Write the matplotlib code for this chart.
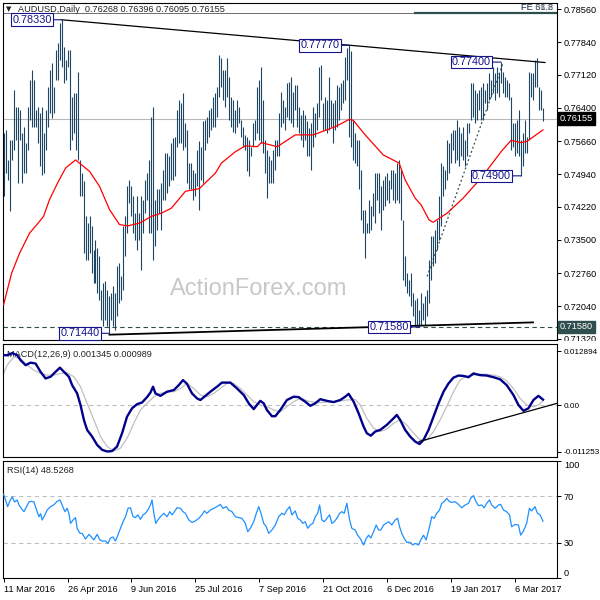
import numpy as np
import matplotlib
matplotlib.use('Agg')
import matplotlib.pyplot as plt
from matplotlib.patches import Rectangle

plt.rcParams['font.family'] = ['Liberation Sans', 'DejaVu Sans']

# ---------------- data ----------------
symbol = 'AUDUSD,Daily'
last_ohlc = [0.76268, 0.76396, 0.76095, 0.76155]

# daily bar highs / lows, bar 0 = 11 Mar 2016
highs = [
    0.7584, 0.7591, 0.7525, 0.7569, 0.7569, 0.7679, 0.7642, 0.7642, 0.7635, 0.7584,
    0.7598, 0.7562, 0.7642, 0.7701, 0.7723, 0.7701, 0.7635, 0.7642, 0.7628, 0.7642,
    0.7584, 0.7635, 0.7686, 0.7723, 0.7737, 0.7686, 0.7767, 0.7781, 0.7825, 0.7833,
    0.7774, 0.7745, 0.7767, 0.7767, 0.7664, 0.7672, 0.7672, 0.7719, 0.7525, 0.7496,
    0.7478, 0.7401, 0.7386, 0.7401, 0.7379, 0.7328, 0.7350, 0.7331, 0.7313, 0.7240,
    0.7255, 0.7258, 0.7240, 0.7225, 0.7233, 0.7247, 0.7233, 0.7291, 0.7299, 0.7269,
    0.7379, 0.7401, 0.7467, 0.7481, 0.7467, 0.7445, 0.7408, 0.7445, 0.7408, 0.7445,
    0.7438, 0.7481, 0.7496, 0.7525, 0.7620, 0.7642, 0.7438, 0.7460, 0.7460, 0.7474,
    0.7503, 0.7540, 0.7540, 0.7533, 0.7562, 0.7573, 0.7576, 0.7635, 0.7657, 0.7650,
    0.7672, 0.7606, 0.7591, 0.7518, 0.7518, 0.7503, 0.7496, 0.7547, 0.7566, 0.7554,
    0.7610, 0.7613, 0.7620, 0.7635, 0.7639, 0.7664, 0.7672, 0.7686, 0.7756, 0.7748,
    0.7723, 0.7723, 0.7748, 0.7708, 0.7664, 0.7657, 0.7635, 0.7657, 0.7642, 0.7613,
    0.7598, 0.7580, 0.7576, 0.7569, 0.7554, 0.7606, 0.7613, 0.7686, 0.7701, 0.7730,
    0.7657, 0.7569, 0.7547, 0.7533, 0.7525, 0.7547, 0.7569, 0.7569, 0.7628, 0.7675,
    0.7657, 0.7642, 0.7694, 0.7697, 0.7708, 0.7675, 0.7690, 0.7690, 0.7642, 0.7624,
    0.7635, 0.7624, 0.7610, 0.7595, 0.7606, 0.7642, 0.7628, 0.7650, 0.7730, 0.7734,
    0.7650, 0.7664, 0.7657, 0.7708, 0.7657, 0.7650, 0.7657, 0.7690, 0.7686, 0.7694,
    0.7701, 0.7752, 0.7770, 0.7777, 0.7764, 0.7613, 0.7584, 0.7569, 0.7569, 0.7503,
    0.7416, 0.7416, 0.7386, 0.7438, 0.7423, 0.7452, 0.7496, 0.7496, 0.7496, 0.7467,
    0.7481, 0.7489, 0.7496, 0.7481, 0.7503, 0.7503, 0.7496, 0.7518, 0.7525, 0.7503,
    0.7394, 0.7313, 0.7277, 0.7262, 0.7277, 0.7233, 0.7218, 0.7222, 0.7196, 0.7233,
    0.7211, 0.7225, 0.7240, 0.7306, 0.7357, 0.7357, 0.7372, 0.7394, 0.7445, 0.7518,
    0.7511, 0.7503, 0.7569, 0.7562, 0.7584, 0.7591, 0.7591, 0.7613, 0.7598, 0.7584,
    0.7598, 0.7569, 0.7606, 0.7606, 0.7694, 0.7694, 0.7679, 0.7672, 0.7679, 0.7686,
    0.7694, 0.7679, 0.7694, 0.7716, 0.7701, 0.7730, 0.7716, 0.7730, 0.7716, 0.7740,
    0.7719, 0.7708, 0.7701, 0.7694, 0.7664, 0.7606, 0.7606, 0.7613, 0.7635, 0.7569,
    0.7584, 0.7613, 0.7576, 0.7719, 0.7716, 0.7716, 0.7745, 0.7748, 0.7686, 0.7679,
    0.76396]
lows = [
    0.7445, 0.7496, 0.7481, 0.7412, 0.7525, 0.7547, 0.7569, 0.7474, 0.7569, 0.7474,
    0.7496, 0.7496, 0.7547, 0.7613, 0.7598, 0.7598, 0.7598, 0.7562, 0.7511, 0.7492,
    0.7496, 0.7547, 0.7598, 0.7628, 0.7617, 0.7628, 0.7701, 0.7701, 0.7745, 0.7730,
    0.7694, 0.7701, 0.7730, 0.7547, 0.7569, 0.7584, 0.7547, 0.7525, 0.7445, 0.7445,
    0.7320, 0.7306, 0.7306, 0.7320, 0.7277, 0.7255, 0.7255, 0.7233, 0.7218, 0.7174,
    0.7160, 0.7174, 0.7160, 0.7144, 0.7174, 0.7160, 0.7152, 0.7182, 0.7211, 0.7218,
    0.7240, 0.7313, 0.7364, 0.7430, 0.7401, 0.7364, 0.7350, 0.7328, 0.7350, 0.7284,
    0.7364, 0.7408, 0.7438, 0.7364, 0.7364, 0.7306, 0.7335, 0.7372, 0.7408, 0.7372,
    0.7438, 0.7438, 0.7452, 0.7467, 0.7481, 0.7481, 0.7489, 0.7554, 0.7562, 0.7562,
    0.7547, 0.7554, 0.7474, 0.7460, 0.7460, 0.7438, 0.7445, 0.7467, 0.7416, 0.7481,
    0.7474, 0.7547, 0.7562, 0.7576, 0.7591, 0.7598, 0.7598, 0.7620, 0.7664, 0.7686,
    0.7657, 0.7642, 0.7664, 0.7613, 0.7598, 0.7587, 0.7584, 0.7598, 0.7606, 0.7576,
    0.7554, 0.7547, 0.7500, 0.7489, 0.7533, 0.7554, 0.7569, 0.7584, 0.7569, 0.7562,
    0.7540, 0.7496, 0.7441, 0.7474, 0.7474, 0.7474, 0.7503, 0.7533, 0.7533, 0.7598,
    0.7606, 0.7591, 0.7620, 0.7613, 0.7606, 0.7598, 0.7635, 0.7598, 0.7584, 0.7569,
    0.7554, 0.7569, 0.7533, 0.7533, 0.7503, 0.7554, 0.7576, 0.7591, 0.7620, 0.7657,
    0.7591, 0.7591, 0.7584, 0.7591, 0.7598, 0.7562, 0.7591, 0.7598, 0.7613, 0.7635,
    0.7650, 0.7657, 0.7701, 0.7576, 0.7554, 0.7525, 0.7518, 0.7511, 0.7460, 0.7394,
    0.7364, 0.7310, 0.7364, 0.7364, 0.7372, 0.7401, 0.7386, 0.7438, 0.7408, 0.7372,
    0.7416, 0.7423, 0.7438, 0.7430, 0.7460, 0.7438, 0.7430, 0.7438, 0.7430, 0.7394,
    0.7262, 0.7247, 0.7233, 0.7225, 0.7204, 0.7182, 0.7160, 0.7163, 0.7158, 0.7163,
    0.7174, 0.7163, 0.7182, 0.7211, 0.7262, 0.7291, 0.7299, 0.7328, 0.7350, 0.7379,
    0.7445, 0.7460, 0.7481, 0.7496, 0.7518, 0.7547, 0.7518, 0.7525, 0.7511, 0.7533,
    0.7525, 0.7511, 0.7533, 0.7584, 0.7613, 0.7620, 0.7606, 0.7613, 0.7635, 0.7613,
    0.7613, 0.7650, 0.7635, 0.7657, 0.7664, 0.7672, 0.7657, 0.7672, 0.7664, 0.7694,
    0.7672, 0.7664, 0.7664, 0.7657, 0.7547, 0.7554, 0.7533, 0.7540, 0.7533, 0.7490,
    0.7511, 0.7540, 0.7540, 0.7569, 0.7664, 0.7657, 0.7686, 0.7686, 0.7635, 0.7635,
    0.76095]

# red moving average
ma_idx = [0, 4, 8, 13, 18, 20, 23, 27, 31, 36, 43, 48, 53, 58, 62, 68, 74, 79, 84, 91,
          98, 106, 109, 116, 121, 127, 129, 137, 146, 155, 166, 173, 175, 181, 190, 198,
          201, 206, 209, 213, 215, 222, 230, 239, 249, 254, 259, 262, 270]
ma_val = [0.7207, 0.7276, 0.7320, 0.7364, 0.7390, 0.7401, 0.7438, 0.7474, 0.7507, 0.7525,
          0.7500, 0.7467, 0.7416, 0.7383, 0.7380, 0.7386, 0.7401, 0.7408, 0.7419, 0.7456,
          0.7462, 0.7496, 0.7518, 0.7543, 0.7556, 0.7554, 0.7563, 0.7554, 0.7580, 0.7580,
          0.7598, 0.7614, 0.7612, 0.7580, 0.7536, 0.7518, 0.7481, 0.7441, 0.7426, 0.7393,
          0.7388, 0.7408, 0.7441, 0.7485, 0.7543, 0.7568, 0.7563, 0.7566, 0.7591]

# swing points that carry a price box
pivot_idx = [29, 173, 249, 259, 53, 208]
pivot_px = [0.78330, 0.77770, 0.77400, 0.74900, 0.71440, 0.71580]

# drawn trend lines (bar index, price)
res_idx, res_px = [29, 271], [0.7833, 0.7739]
sup_idx, sup_px = [53, 265], [0.7141, 0.7168]
dot_idx, dot_px = [212, 250], [0.7269, 0.7738]
level_px = 0.7158
fe_px = 0.7847
fe_start = 206

price_ticks = [0.7856, 0.7784, 0.7712, 0.7640, 0.7566, 0.7494, 0.7422, 0.7350,
               0.7276, 0.7204, 0.7132]

# MACD(12,26,9)
macd_last = [0.001345, 0.000989]
macd_idx = [0, 1.8, 4.3, 6.8, 8.5, 11, 13.5, 16, 18.5, 21, 23.5, 26, 28.2, 30.2, 32.7,
            34.3, 36.8, 38.5, 40.2, 41.8, 44.3, 46.8, 49.3, 51.8, 54.3, 56.8, 59.3, 61.8,
            64.3, 66.8, 69.3, 71.8, 73.5, 74.8, 76, 78.5, 81.8, 85.2, 87.7, 89.8, 91.8,
            94.3, 96.8, 98.5, 101, 103.5, 106.8, 109.3, 113.5, 116.8, 120.2, 122.7,
            125.2, 126.8, 128.5, 130.2, 131.8, 134.3, 136, 138.5, 141.8, 145.2, 147.7,
            148.5, 151, 153.5, 156, 158.5, 161.8, 165.2, 168.5, 171, 172.7, 175.2, 177.7,
            180.2, 181.8, 183.8, 186, 188.5, 191.8, 195.2, 196.8, 198.5, 201, 203.5, 206,
            208.2, 210.2, 212.7, 215.2, 217.7, 220.2, 222.7, 225.2, 227.7, 230.2, 232.7,
            235.2, 238.5, 241.8, 245.2, 248.5, 251.8, 255.2, 257.7, 260.2, 262.7, 265.2,
            267.7, 270]
macd_val = [0.0120, 0.0120, 0.0125, 0.0120, 0.0108, 0.0096, 0.0102, 0.0100, 0.0080, 0.0064,
            0.0068, 0.0080, 0.0090, 0.0080, 0.0068, 0.0048, 0.0028, 0.0000, -0.0036, -0.0060,
            -0.0076, -0.0096, -0.0108, -0.0112, -0.0111, -0.0100, -0.0068, -0.0028, -0.0008,
            0.0002, 0.0006, 0.0019, 0.0030, 0.0044, 0.0028, 0.0022, 0.0032, 0.0036, 0.0048,
            0.0060, 0.0051, 0.0028, 0.0016, 0.0012, 0.0022, 0.0032, 0.0044, 0.0054, 0.0054,
            0.0040, 0.0024, 0.0004, -0.0010, 0.0000, 0.0010, 0.0004, -0.0012, -0.0027,
            -0.0027, -0.0012, 0.0012, 0.0020, 0.0019,
            0.0016, 0.0008, -0.0002, 0.0004, 0.0014, 0.0010, 0.0007, 0.0012, 0.0020, 0.0027,
            0.0008, -0.0020, -0.0052, -0.0068, -0.0074, -0.0064, -0.0060, -0.0048, -0.0032,
            -0.0024, -0.0036, -0.0060, -0.0076, -0.0088, -0.0094, -0.0084, -0.0060, -0.0028,
            0.0004, 0.0032, 0.0052, 0.0066, 0.0071, 0.0070, 0.0067, 0.0076, 0.0072, 0.0071,
            0.0067, 0.0062, 0.0048, 0.0024, 0.0000, -0.0014, -0.0008, 0.0012, 0.0022, 0.0013]
sig_idx = [0, 1.8, 5.2, 8.5, 11.8, 15.2, 18.5, 21.8, 25.2, 28.5, 31.8, 35.2, 38.5, 41.8,
           45.2, 48.5, 51.8, 55.2, 58.5, 61.8, 65.2, 68.5, 71.8, 75.2, 78.5, 81.8, 85.2,
           88.5, 91.8, 95.2, 98.5, 101.8, 105.2, 108.5, 111.8, 115.2, 118.5, 121.8, 125.2,
           128.5, 131.8, 135.2, 138.5, 141.8, 145.2, 148.5, 153.5, 158.5, 165.2, 171.8, 176,
           178.5, 181.8, 185.2, 188.5, 191.8, 195.2, 198.5, 201.8, 205.2, 208.5, 211.8,
           215.2, 218.5, 221.8, 225.2, 228.5, 231.8, 235.2, 238.5, 241.8, 245.2, 248.5,
           251.8, 255.2, 258.5, 261.8, 265.2, 267.7, 270]
sig_val = [0.0076, 0.0096, 0.0116, 0.0112, 0.0096, 0.0084, 0.0076, 0.0072, 0.0072, 0.0076,
           0.0078, 0.0068, 0.0044, 0.0004, -0.0036, -0.0076, -0.0100, -0.0111, -0.0104,
           -0.0080, -0.0044, -0.0012, 0.0004, 0.0020, 0.0028, 0.0032, 0.0032, 0.0040, 0.0052,
           0.0040, 0.0024, 0.0020, 0.0028, 0.0040, 0.0052, 0.0052, 0.0040, 0.0024, 0.0008,
           0.0000, -0.0004, -0.0012, -0.0016, -0.0004, 0.0008, 0.0016, 0.0008, 0.0006, 0.0008,
           0.0012, 0.0013, 0.0000, -0.0032, -0.0056, -0.0064, -0.0058, -0.0044, -0.0036,
           -0.0048, -0.0068, -0.0084, -0.0084, -0.0064, -0.0036, -0.0004, 0.0032, 0.0060,
           0.0070, 0.0072, 0.0074, 0.0074, 0.0072, 0.0068, 0.0058, 0.0040, 0.0016, 0.0000,
           -0.0004, 0.0000, 0.0010]
macd_tl_idx, macd_tl_val = [208, 277], [-0.0088, 0.0004]
macd_ticks = [0.012894, 0.0, -0.011253]
macd_ticklabels = ['0.012894', '0.00', '-0.011253']

# RSI(14)
rsi_last = 48.5268
rsi_idx = [0, 1, 2, 3, 4.3, 5.5, 6.8, 7.7, 8.8, 10.2, 11.5, 12.7, 13.8, 15.2, 16.5, 17.7,
           18.5, 19.3, 20.7, 21.8, 23.5, 25.2, 26.8, 28.2, 29.3, 30.7, 31.8, 32.7, 33.5,
           34.8, 36, 36.8, 38.2, 39.3, 41, 42.7, 43.8, 45.2, 46.8, 48.2, 49.3, 51, 52.2,
           53.5, 54.7, 56, 57.2, 58.5, 59.8, 61, 62.3, 63.5, 64.8, 66, 67.2, 68.5, 69.8,
           71, 72.2, 73.5, 74.3, 75.2, 76.2, 77.2, 78.5, 80.2, 81.8, 83.2, 84.3, 85.5,
           86.8, 88.5, 89.8, 91, 92.7, 94.3, 96, 97.7, 99.3, 100.5, 101.8, 103.5, 105.2,
           106.8, 108.5, 109.8, 111.5, 112.7, 114.3, 116, 117.7, 119.3, 121, 122.2, 123.5,
           125.2, 126.5, 127.7, 128.8, 130.2, 131.5, 132.7, 134.3, 136, 137.7, 139.3,
           140.5, 141.8, 143.2, 144.3, 146, 147.2,
           148.5, 149.8, 151, 152.2, 153.5, 154.8, 156, 157.2, 158.2, 159.3, 160.5, 161.8,
           163.2, 164.3, 165.5, 166.8, 168.2, 169.3, 170.5, 171.8, 173.2, 174.3, 176,
           177.2, 178.5, 180.2, 181.5, 182.7, 183.8, 185.2, 186.5, 187.7, 188.8, 190.2,
           191.5, 192.7, 194.3, 196, 197.2, 198.2, 199.3, 200.5, 201.8, 203.5, 204.8, 206,
           207.7, 208.8, 210.2, 211.5, 213.2, 214.3, 215.5, 216.8, 218.2, 219.3, 220.5,
           221.8, 223.2, 224.3, 226, 227.7, 229.3, 231, 232.7, 233.8, 235.2, 236.5, 237.7,
           239.3, 240.5, 241.8, 243.2, 244.3, 246, 247.7, 248.8, 250.2, 251.8, 253.2,
           254.3, 256, 257.7, 258.8, 260.2, 261.8, 263.2, 264.3, 266, 267.2, 268.5, 270]
rsi_val = [71.5, 66.7, 61, 65.2, 69.5, 65, 66.7, 62.4, 59.6, 56.7, 61, 65, 65.5, 65, 58.1,
           52.4, 55, 49.6, 54, 58.1, 61, 62.6, 65.5, 66.7, 62.4, 56.7, 59.6, 55, 46.7, 49.6,
           51.6, 42.5, 38.2, 38.2, 33.3, 37.3, 35.3, 32.5, 37.3, 32.5, 31.6, 31.6, 29.6,
           34.2, 35, 31.6, 36.6, 42.5, 48.1, 52.4, 59.6, 60, 52.4, 51.6, 54, 50.1, 54, 55.3,
           58.1, 62.4, 66.7, 55.3, 46.7, 49.6, 52.4, 55.3, 52.4, 56.7, 54, 56.7, 60, 59.6,
           56.7, 55.3, 49.6, 47.5, 48.8, 51, 54, 57.3, 55.3, 58.1, 59.6, 61, 62.9, 59.6, 61,
           58.1, 56.7, 52.4, 51.6, 51, 46.7, 39.6, 42.5, 48.1, 55.3, 61, 55.3, 46.7, 43.8,
           38.2, 41, 45.3, 52.4, 55.3, 54, 58.1, 61, 54, 57.3, 51,
           49.6, 46.7, 48.1, 42.5, 45.3, 46.7, 52.4, 55.3, 62.4, 49.6, 48.1, 51, 54, 46.7,
           48.1, 51, 55.3, 56.7, 55.3, 63.9, 49.6, 42.5, 41, 36.6, 33.8, 28.2, 33.8, 36.6,
           34.2, 39.6, 45.3, 41, 41, 45.3, 46.7, 48.1, 45.3, 49.6, 51, 43.8, 38.2, 33.8,
           30.5, 30.5, 28.2, 29.6, 28.2, 32.5, 36.6, 32.5, 43.8, 52.4, 51, 55.3, 58.1, 63.8,
           65.2, 68.1, 65.2, 64.7, 65.2, 62.9, 60, 62.4, 63.8, 68.1, 70.4, 65.2, 61.8, 62.4,
           60, 63.8, 66.7, 62.4, 59.6, 62.4, 62.9, 58.1, 56.7, 54, 43.8, 45.8, 45.3, 36.6,
           40, 46.7, 59.6, 57.3, 61, 55.3, 54, 48.5]

date_ticks = [0, 32, 64, 96, 128, 160, 192, 224, 256]
date_labels = ['11 Mar 2016', '26 Apr 2016', '9 Jun 2016', '25 Jul 2016', '7 Sep 2016',
               '21 Oct 2016', '6 Dec 2016', '19 Jan 2017', '6 Mar 2017']

# ---------------- figure ----------------
W, H = 600, 600
fig = plt.figure(figsize=(6, 6), dpi=100)
fig.patch.set_facecolor('white')

BAR = '#1d4664'
NAVY = '#14148c'
SLATE = '#2f4f4f'
FS = 6.6
XMAX = 277


def panel(x0, y0, x1, y1):
    return fig.add_axes([x0 / W, 1 - y1 / H, (x1 - x0) / W, (y1 - y0) / H])


ax_p = panel(3, 3, 557, 340)
ax_m = panel(3, 344, 557, 457)
ax_r = panel(3, 461, 557, 578)

for ax in (ax_p, ax_m, ax_r):
    ax.set_xlim(-0.3, XMAX)
    ax.yaxis.tick_right()
    ax.tick_params(axis='y', direction='out', length=3, width=0.7, pad=2,
                   labelsize=FS, colors='black')
    for s in ax.spines.values():
        s.set_linewidth(0.8)
        s.set_color('black')
for ax in (ax_p, ax_m):
    ax.tick_params(axis='x', bottom=False, labelbottom=False)

# ---- price panel ----
ax_p.set_ylim(0.71293, 0.78698)
idx = np.arange(len(highs))
ax_p.vlines(idx, lows, highs, color=BAR, lw=0.8, zorder=2)
ax_p.plot(ma_idx, ma_val, color='#ff0000', lw=0.9, zorder=3)

ax_p.axhline(last_ohlc[3], color='#b8b8b8', lw=0.8, zorder=1)
ax_p.axhline(level_px, color=SLATE, lw=0.8, ls=(0, (4, 3)), zorder=1)
ax_p.axhline(fe_px, color='#555555', lw=0.6, zorder=1)
ax_p.plot([fe_start, XMAX], [fe_px, fe_px], color=SLATE, lw=1.6, zorder=1)

ax_p.plot(res_idx, res_px, color='black', lw=0.9, zorder=4)
ax_p.plot(sup_idx, sup_px, color='black', lw=1.3, zorder=4)
ax_p.plot(dot_idx, dot_px, color=SLATE, lw=0.9, ls=(0, (1.5, 2)), zorder=1)

for i, p in zip(pivot_idx, pivot_px):
    ax_p.annotate(f'{p:.5f}', xy=(i, p), xytext=(-10, 0), textcoords='offset pixels',
                  ha='right', va='center', fontsize=7.8, color=NAVY, zorder=6,
                  bbox=dict(boxstyle='square,pad=0.12', fc='white', ec=NAVY, lw=0.8),
                  arrowprops=dict(arrowstyle='-', color=NAVY, lw=0.8,
                                  shrinkA=0, shrinkB=0))

ax_p.set_yticks(price_ticks)
ax_p.set_yticklabels([f'{v:.5f}' for v in price_ticks])


def axis_tag(ax, y, fc):
    ax.annotate(f'{y:.5f}', xy=(1, y), xycoords=('axes fraction', 'data'),
                xytext=(3, 0), textcoords='offset pixels', ha='left', va='center',
                fontsize=FS, color='white', annotation_clip=False, zorder=8,
                bbox=dict(boxstyle='square,pad=0.2', fc=fc, ec=fc))


axis_tag(ax_p, last_ohlc[3], 'black')
axis_tag(ax_p, level_px, SLATE)

ax_p.text(0.461, 0.151, 'ActionForex.com', transform=ax_p.transAxes, fontsize=17,
          color='#c8c8c8', ha='center', va='center', zorder=0)

fig.text(9 / W, 1 - 9 / H, '\u25bc', fontsize=5, family='DejaVu Sans',
         ha='center', va='center', color='#222222')
fig.text(18 / W, 1 - 9 / H,
         f'{symbol}  ' + ' '.join(f'{v:.5f}' for v in last_ohlc),
         fontsize=FS, ha='left', va='center', color='#222222')
fig.text(553 / W, 1 - 8 / H, 'FE 61.8', fontsize=FS, ha='right', va='center',
         color='#3a4a5a')
fig.text(553 / W, 1 - 8 / H, 'FE 38.2', fontsize=FS, ha='right', va='center',
         color='#3a4a5a', alpha=0.6)

# ---- MACD panel ----
ax_m.set_ylim(-0.01253, 0.0147)
ax_m.axhline(0, color='#c0c0c0', lw=0.8, ls=(0, (4, 3)), zorder=1)
ax_m.plot(sig_idx, sig_val, color='#c0c0c0', lw=0.9, zorder=2)
ax_m.plot(macd_idx, macd_val, color='#00008b', lw=1.7, zorder=3)
ax_m.plot(macd_tl_idx, macd_tl_val, color='black', lw=0.9, zorder=4, clip_on=False)
ax_m.set_yticks(macd_ticks)
ax_m.set_yticklabels(macd_ticklabels)
ax_m.tick_params(axis='y', labelsize=5.9, pad=1.5)
ax_m.text(0.0072, 0.9115, f'MACD(12,26,9) {macd_last[0]:.6f} {macd_last[1]:.6f}',
          transform=ax_m.transAxes, fontsize=FS, va='center', ha='left',
          color='#222222', zorder=1)

# ---- RSI panel ----
ax_r.set_ylim(0, 100)
for lv in (70, 30):
    ax_r.axhline(lv, color='#c0c0c0', lw=0.8, ls=(0, (4, 3)), zorder=1)
ax_r.plot(rsi_idx, rsi_val, color='#1e90ff', lw=0.9, zorder=3)
ax_r.set_yticks([100, 70, 30, 0])
ax_r.set_yticklabels(['100', '70', '30', '0'])
yl = ax_r.get_yticklabels()
yl[0].set_va('top')
yl[3].set_va('bottom')
ax_r.text(0.0072, 0.923, f'RSI(14) {rsi_last:.4f}', transform=ax_r.transAxes,
          fontsize=FS, va='center', ha='left', color='#222222', zorder=1)

ax_r.set_xticks(date_ticks)
ax_r.set_xticklabels(date_labels)
ax_r.tick_params(axis='x', direction='out', length=3, width=0.7, pad=2, labelsize=FS)
for lbl in ax_r.get_xticklabels():
    lbl.set_ha('left')

# hide the part of the lowest price label that falls below the price panel
fig.patches.append(Rectangle((558 / W, 1 - 344 / H), 42 / W, 3.5 / H,
                             transform=fig.transFigure, fc='white', ec='none',
                             zorder=10))

fig.savefig('out.png', dpi=100, facecolor='white')
